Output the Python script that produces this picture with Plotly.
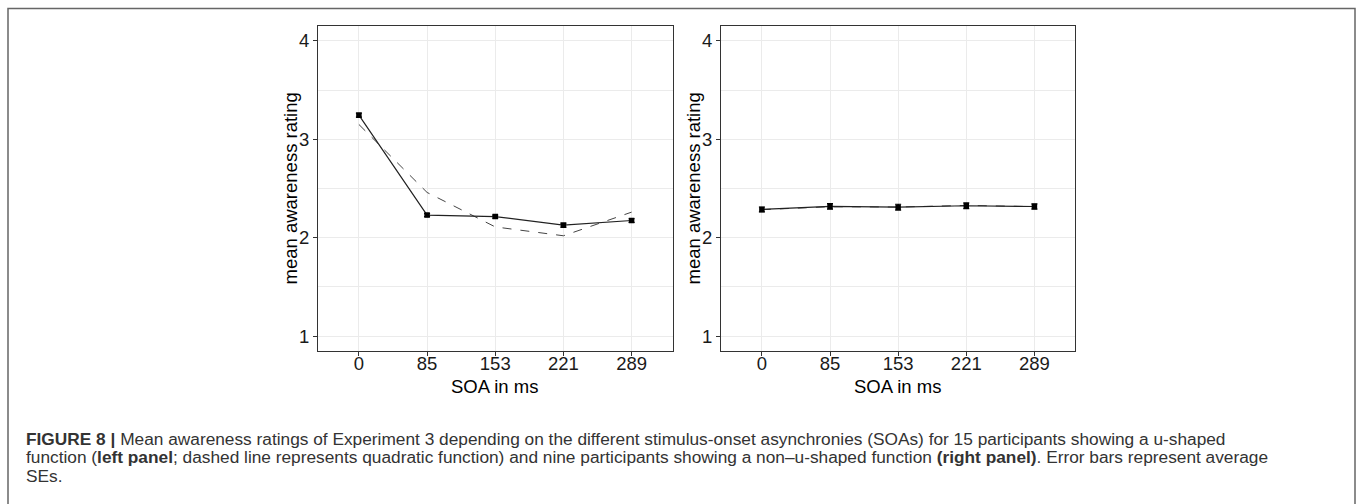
import plotly.graph_objects as go

W, H = 1358, 504

soa_labels = ["0", "85", "153", "221", "289"]

left_mean = [3.245, 2.23, 2.215, 2.128, 2.175]
left_se = [0.02, 0.015, 0.015, 0.02, 0.018]
left_quad = [3.15, 2.46, 2.11, 2.02, 2.26]

right_mean = [2.287, 2.318, 2.31, 2.325, 2.317]
right_se = [0.025, 0.028, 0.03, 0.03, 0.026]
right_quad = [2.285, 2.315, 2.312, 2.328, 2.316]

y_ticks = [1, 2, 3, 4]
y_minor = [1.5, 2.5, 3.5]

FONT = "Liberation Sans, Arial, sans-serif"

def px_x(p):
    return p / W

def px_y(p):
    return 1 - p / H

fig = go.Figure()

panels = [
    ("x", "y", left_mean, left_se, left_quad),
    ("x2", "y2", right_mean, right_se, right_quad),
]
for xa, ya, mean, se, quad in panels:
    fig.add_trace(go.Scatter(
        x=soa_labels, y=quad, xaxis=xa, yaxis=ya, mode="lines",
        line=dict(color="#444444", width=1, dash="dash"), showlegend=False,
        hoverinfo="skip"))
    fig.add_trace(go.Scatter(
        x=soa_labels, y=mean, xaxis=xa, yaxis=ya, mode="lines+markers",
        line=dict(color="#222222", width=1.2),
        marker=dict(color="black", size=5.5, symbol="square"),
        error_y=dict(type="data", array=se, color="black", thickness=1.2, width=3),
        showlegend=False))

top, bottom = 26, 351
x_domains = [(318, 672.5), (721, 1075.3)]

axis_common = dict(
    showline=True, mirror=True, linecolor="#333333", linewidth=1,
    gridcolor="#ebebeb", gridwidth=1, zeroline=False,
    ticks="outside", ticklen=4, tickcolor="#333333", tickwidth=1,
    tickfont=dict(family=FONT, size=18.5, color="#1a1a1a"),
)

layout = dict(
    width=W, height=H, margin=dict(l=0, r=0, t=0, b=0),
    paper_bgcolor="white", plot_bgcolor="white",
)
for i, (xa, ya) in enumerate([("xaxis", "yaxis"), ("xaxis2", "yaxis2")]):
    d0, d1 = x_domains[i]
    anchor_y = "y" if i == 0 else "y2"
    anchor_x = "x" if i == 0 else "x2"
    layout[xa] = dict(
        axis_common, type="category", domain=[px_x(d0), px_x(d1)],
        range=[-0.6, 4.6], anchor=anchor_y, categoryorder="array",
        categoryarray=soa_labels, ticklabelstandoff=-8,
    )
    layout[ya] = dict(
        axis_common, domain=[px_y(bottom), px_y(top)], range=[0.85, 4.15],
        tickvals=y_ticks, anchor=anchor_x,
        minor=dict(tickvals=y_minor, showgrid=True, gridcolor="#ebebeb",
                   gridwidth=1, ticks=""),
    )
fig.update_layout(**layout)

ann = []
for i, (d0, d1) in enumerate(x_domains):
    cx = (d0 + d1) / 2 - 0.5
    ann.append(dict(text="SOA in ms", x=px_x(cx), y=px_y(386), xref="paper", yref="paper",
                    showarrow=False, xanchor="center", yanchor="middle",
                    font=dict(family=FONT, size=18.5, color="black")))
    ann.append(dict(text="mean awareness rating", x=px_x(d0 - 28), y=px_y((top + bottom) / 2),
                    xref="paper", yref="paper", showarrow=False, textangle=-90,
                    xanchor="center", yanchor="middle",
                    font=dict(family=FONT, size=18.5, color="black")))

caption = [
    "<b>FIGURE 8 |</b> Mean awareness ratings of Experiment 3 depending on the different stimulus-onset asynchronies (SOAs) for 15 participants showing a u-shaped",
    "function (<b>left panel</b>; dashed line represents quadratic function) and nine participants showing a non–u-shaped function <b>(right panel)</b>. Error bars represent average",
    "SEs.",
]
cap_y = [439, 456.5, 475.5]
for t, yy in zip(caption, cap_y):
    ann.append(dict(text=t, x=px_x(25), y=px_y(yy), xref="paper", yref="paper",
                    showarrow=False, xanchor="left", yanchor="middle", borderpad=0,
                    font=dict(family=FONT, size=17.3, color="#333333")))
fig.update_layout(annotations=ann)

fig.add_shape(type="rect", xref="paper", yref="paper",
              x0=px_x(8), x1=px_x(1355), y0=px_y(520), y1=px_y(8.5),
              line=dict(color="#666666", width=1.5), layer="above")

fig.write_html("out.html")
